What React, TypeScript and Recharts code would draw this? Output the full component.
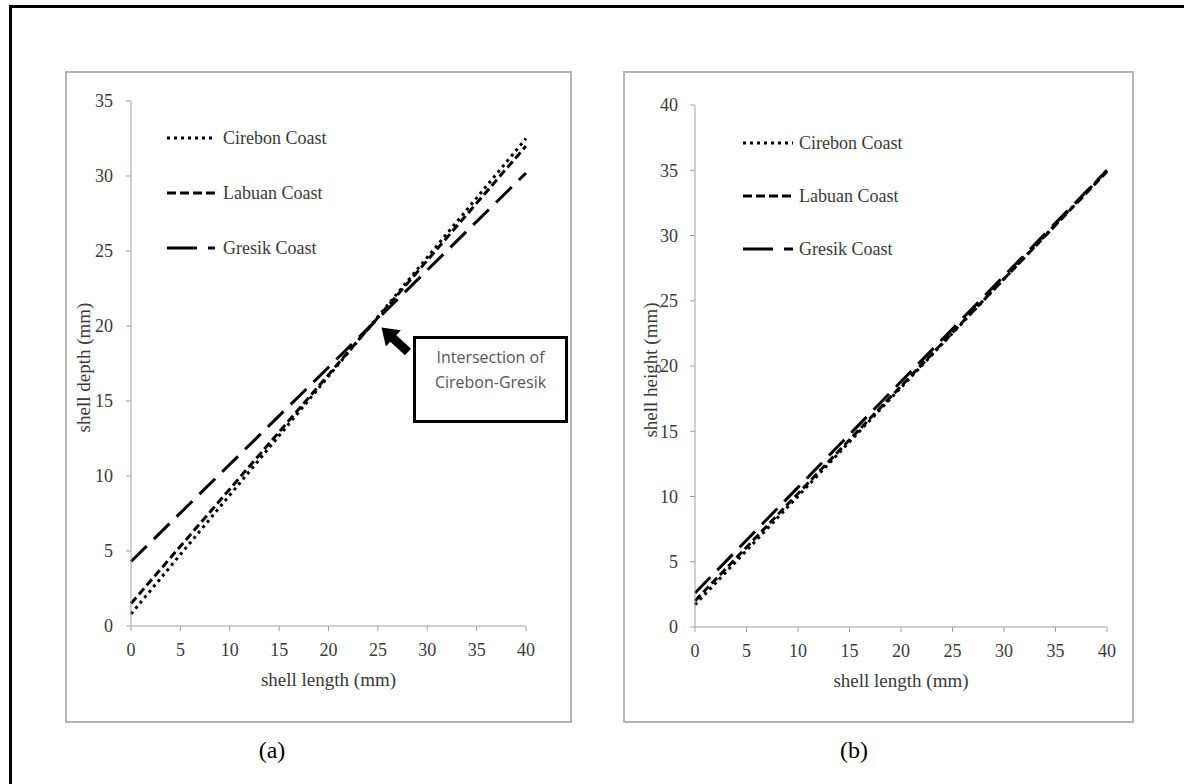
import React from 'react';
import { LineChart, Line, XAxis, YAxis, Legend } from 'recharts';

// ---- data ----
const lengthMm = [0, 40];
const depthCirebon = [0.8, 32.5];
const depthLabuan = [1.5, 32.0];
const depthGresik = [4.3, 30.2];
const heightCirebon = [1.7, 35.0];
const heightLabuan = [2.0, 34.9];
const heightGresik = [2.6, 35.0];

const xTicks = [0, 5, 10, 15, 20, 25, 30, 35, 40];
const depthTicks = [0, 5, 10, 15, 20, 25, 30, 35];
const heightTicks = [0, 5, 10, 15, 20, 25, 30, 35, 40];

const seriesKeys = ['cirebon', 'labuan', 'gresik'];
const seriesNames = ['Cirebon Coast', 'Labuan Coast', 'Gresik Coast'];
const panelLabels = ['(a)', '(b)'];
const annotationLines = ['Intersection of', 'Cirebon-Gresik'];
const xAxisTitle = 'shell length (mm)';
const depthTitle = 'shell depth (mm)';
const heightTitle = 'shell height (mm)';

const depthData = lengthMm.map((x, i) => ({
  x,
  cirebon: depthCirebon[i],
  labuan: depthLabuan[i],
  gresik: depthGresik[i],
}));
const heightData = lengthMm.map((x, i) => ({
  x,
  cirebon: heightCirebon[i],
  labuan: heightLabuan[i],
  gresik: heightGresik[i],
}));

// ---- styles ----
const SERIF = '"Liberation Serif", "Times New Roman", serif';
const TEXT = '#3a3a3a';
const AXIS = '#a0a0a0';

const lineStyle: Record<string, { dash: string; legendDash: string; w: number }> = {
  cirebon: { dash: '3 4', legendDash: '3 4', w: 3 },
  labuan: { dash: '8 4', legendDash: '9 4', w: 3 },
  gresik: { dash: '22 10', legendDash: '30 11', w: 3 },
};

const tickStyle = { fill: TEXT, fontSize: 18, fontFamily: SERIF };

const makeLegend = (rowH: number, sampleW: number, gap: number) => (props: any) => {
  const payload = [...(props.payload || [])].sort(
    (a: any, b: any) => seriesKeys.indexOf(a.dataKey) - seriesKeys.indexOf(b.dataKey)
  );
  return (
    <div>
      {payload.map((p: any) => {
        const s = lineStyle[p.dataKey];
        return (
          <div key={p.dataKey} style={{ display: 'flex', alignItems: 'center', height: rowH }}>
            <svg width={sampleW} height={8} style={{ display: 'block' }}>
              <line x1={0} y1={4} x2={sampleW} y2={4} stroke="#000" strokeWidth={s.w} strokeDasharray={s.legendDash} />
            </svg>
            <span style={{ marginLeft: gap, fontFamily: SERIF, fontSize: 18, color: TEXT, lineHeight: 1 }}>{p.value}</span>
          </div>
        );
      })}
    </div>
  );
};

const XTitle = (props: any) => {
  const vb = props.viewBox || {};
  return (
    <text x={vb.x + vb.width / 2} y={vb.y + 60} textAnchor="middle" fill={TEXT} fontFamily={SERIF} fontSize={19}>
      {props.value}
    </text>
  );
};

const YTitle = (props: any) => {
  const vb = props.viewBox || {};
  const cx = vb.x + vb.width - props.shift;
  const cy = vb.y + vb.height / 2 + 4;
  return (
    <text
      x={cx}
      y={cy}
      textAnchor="middle"
      dominantBaseline="central"
      transform={`rotate(-90 ${cx} ${cy})`}
      fill={TEXT}
      fontFamily={SERIF}
      fontSize={19}
    >
      {props.value}
    </text>
  );
};

const renderLines = () =>
  seriesKeys.map((k, i) => (
    <Line
      key={k}
      type="linear"
      dataKey={k}
      name={seriesNames[i]}
      stroke="#000"
      strokeWidth={lineStyle[k].w}
      strokeDasharray={lineStyle[k].dash}
      dot={false}
      activeDot={false}
      isAnimationActive={false}
    />
  ));

export default function App() {
  return (
    <div
      style={{
        position: 'fixed',
        left: 0,
        top: 0,
        width: 1184,
        height: 784,
        overflow: 'hidden',
        background: '#fff',
      }}
    >
      {/* outer document frame */}
      <div style={{ position: 'absolute', left: 9, top: 5, width: 1400, height: 1000, border: '3px solid #000' }} />

      {/* panel frames */}
      <div style={{ position: 'absolute', left: 65, top: 71, width: 507, height: 652, border: '2px solid #b5b5b5', boxSizing: 'border-box' }} />
      <div style={{ position: 'absolute', left: 623, top: 71, width: 511, height: 652, border: '2px solid #b5b5b5', boxSizing: 'border-box' }} />

      {/* panel (a) */}
      <div style={{ position: 'absolute', left: 66, top: 72 }}>
        <LineChart width={506} height={651} data={depthData} margin={{ top: 29, right: 46, left: 0, bottom: 0 }}>
          <XAxis
            type="number"
            dataKey="x"
            domain={[0, 40]}
            ticks={xTicks}
            height={97}
            tick={tickStyle}
            tickSize={5}
            tickMargin={12}
            stroke={AXIS}
            tickLine={{ stroke: AXIS }}
            axisLine={{ stroke: AXIS }}
            label={<XTitle value={xAxisTitle} />}
          />
          <YAxis
            type="number"
            domain={[0, 35]}
            ticks={depthTicks}
            width={65}
            tick={tickStyle}
            tickSize={5}
            tickMargin={13}
            stroke={AXIS}
            tickLine={{ stroke: AXIS }}
            axisLine={{ stroke: AXIS }}
            label={<YTitle value={depthTitle} shift={48} />}
          />
          {renderLines()}
          <Legend
            layout="vertical"
            align="center"
            verticalAlign="middle"
            content={makeLegend(55, 48, 8)}
            wrapperStyle={{ left: 101, top: 38, width: 260 }}
          />
        </LineChart>
      </div>

      {/* panel (b) */}
      <div style={{ position: 'absolute', left: 624, top: 72 }}>
        <LineChart width={509} height={651} data={heightData} margin={{ top: 33, right: 26, left: 0, bottom: 0 }}>
          <XAxis
            type="number"
            dataKey="x"
            domain={[0, 40]}
            ticks={xTicks}
            height={96}
            tick={tickStyle}
            tickSize={5}
            tickMargin={12}
            stroke={AXIS}
            tickLine={{ stroke: AXIS }}
            axisLine={{ stroke: AXIS }}
            label={<XTitle value={xAxisTitle} />}
          />
          <YAxis
            type="number"
            domain={[0, 40]}
            ticks={heightTicks}
            width={71}
            tick={tickStyle}
            tickSize={5}
            tickMargin={12}
            stroke={AXIS}
            tickLine={{ stroke: AXIS }}
            axisLine={{ stroke: AXIS }}
            label={<YTitle value={heightTitle} shift={45} />}
          />
          {renderLines()}
          <Legend
            layout="vertical"
            align="center"
            verticalAlign="middle"
            content={makeLegend(53, 50, 6)}
            wrapperStyle={{ left: 119, top: 44, width: 260 }}
          />
        </LineChart>
      </div>

      {/* annotation: arrow + box */}
      <svg style={{ position: 'absolute', left: 0, top: 0 }} width={1184} height={784} pointerEvents="none">
        <polygon
          points="0,-4.5 20,-4.5 20,-11 36,0 20,11 20,4.5 0,4.5"
          fill="#000"
          transform="translate(408 352) rotate(-137.3)"
        />
      </svg>
      <div
        style={{
          position: 'absolute',
          left: 413,
          top: 336,
          width: 155,
          height: 87,
          border: '3px solid #000',
          boxSizing: 'border-box',
          paddingTop: 6,
          textAlign: 'center',
          fontFamily: '"Open Sans", "Liberation Sans", sans-serif',
          fontSize: 16,
          lineHeight: '25px',
          color: '#555',
          background: '#fff',
        }}
      >
        {annotationLines.map((t) => (
          <div key={t}>{t}</div>
        ))}
      </div>

      {/* panel labels */}
      <div style={{ position: 'absolute', left: 232, top: 737, width: 80, textAlign: 'center', fontFamily: SERIF, fontSize: 24, color: '#000' }}>
        {panelLabels[0]}
      </div>
      <div style={{ position: 'absolute', left: 814, top: 737, width: 80, textAlign: 'center', fontFamily: SERIF, fontSize: 24, color: '#000' }}>
        {panelLabels[1]}
      </div>
    </div>
  );
}
